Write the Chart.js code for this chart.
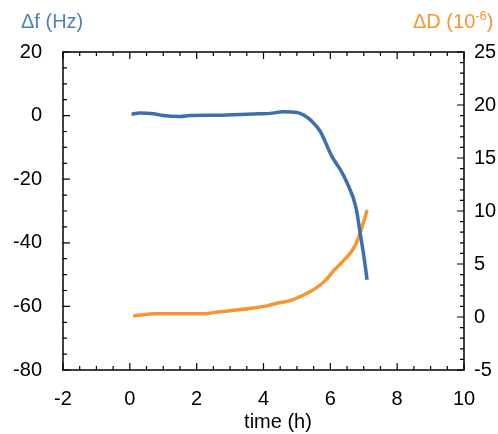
<!DOCTYPE html>
<html>
<head>
<meta charset="utf-8">
<script src="https://cdn.jsdelivr.net/npm/chart.js@4"></script>
<style>
  body { margin: 0; background: #fff; }
  canvas { display: block; }
</style>
</head>
<body>
<canvas id="chart" width="498" height="434"></canvas>
<script>
// Δf (Hz) against time (h), left axis
const freqTime = [0.05, 0.3, 0.7, 1.0, 1.5, 1.8, 2.5, 3.1, 3.7, 4.2, 4.6, 5.0, 5.2, 5.45, 5.7, 6.05, 6.3, 6.5, 6.77, 6.89, 7.0, 7.1];
const freqShift = [0.4, 0.8, 0.6, 0, -0.3, 0, 0.1, 0.3, 0.5, 0.7, 1.2, 1.0, 0.2, -1.8, -5.0, -12.9, -17, -21.1, -29, -36.8, -44, -51.6];

// ΔD (1e-6) against time (h), right axis
const dissTime = [0.1, 0.8, 1.5, 2.2, 2.7, 3.2, 3.7, 4.1, 4.4, 4.8, 5.15, 5.6, 5.9, 6.08, 6.3, 6.59, 6.75, 6.89, 7.0, 7.1];
const dissShift = [0.1, 0.3, 0.3, 0.3, 0.5, 0.65, 0.85, 1.05, 1.3, 1.55, 2.0, 2.8, 3.6, 4.3, 5.0, 6.0, 6.8, 7.9, 9.0, 10.1];

const BLUE = '#3d6fab';
const ORANGE = '#f7952f';
const FONT = 'Liberation Sans, Arial, sans-serif';

function toPoints(xs, ys) {
    return xs.map((x, i) => ({ x: x, y: ys[i] }));
}

// inward tick marks + closed frame, drawn from the scales themselves
const frameTicks = {
    id: 'frameTicks',
    afterDraw(chart) {
        const ctx = chart.ctx;
        const a = chart.chartArea;
        const xs = chart.scales.x, yl = chart.scales.y, yr = chart.scales.y1;
        ctx.save();
        ctx.strokeStyle = '#000';
        ctx.lineWidth = 1.5;
        ctx.strokeRect(a.left, a.top, a.right - a.left, a.bottom - a.top);
        ctx.lineWidth = 1.2;
        ctx.beginPath();
        for (let v = -2; v <= 10.001; v += 0.5) {
            const px = xs.getPixelForValue(v);
            const len = Math.abs(v % 2) < 0.01 ? 7 : 4;
            ctx.moveTo(px, a.bottom); ctx.lineTo(px, a.bottom - len);
            ctx.moveTo(px, a.top); ctx.lineTo(px, a.top + len);
        }
        for (let v = -80; v <= 20.001; v += 5) {
            const py = yl.getPixelForValue(v);
            const len = Math.abs(v % 20) < 0.01 ? 7 : 4;
            ctx.moveTo(a.left, py); ctx.lineTo(a.left + len, py);
        }
        for (let v = -5; v <= 25.001; v += 1) {
            const py = yr.getPixelForValue(v);
            const len = Math.abs(v % 5) < 0.01 ? 7 : 4;
            ctx.moveTo(a.right, py); ctx.lineTo(a.right - len, py);
        }
        ctx.stroke();

        // axis titles
        ctx.textBaseline = 'middle';
        ctx.font = '20px ' + FONT;
        ctx.fillStyle = '#4f81bd';
        ctx.textAlign = 'left';
        ctx.fillText('\u0394f (Hz)', 21, 22);

        ctx.fillStyle = ORANGE;
        const main = '\u0394D (10';
        ctx.fillText(main, 413, 22);
        let w = ctx.measureText(main).width;
        ctx.font = '13px ' + FONT;
        ctx.fillText('-6', 413 + w, 16);
        w += ctx.measureText('-6').width;
        ctx.font = '20px ' + FONT;
        ctx.fillText(')', 413 + w, 22);

        ctx.fillStyle = '#000';
        ctx.textAlign = 'center';
        ctx.fillText('time (h)', 278, 422);
        ctx.restore();
    }
};

new Chart(document.getElementById('chart'), {
    type: 'scatter',
    data: {
        datasets: [
            {
                label: 'Δf',
                data: toPoints(freqTime, freqShift),
                yAxisID: 'y',
                showLine: true,
                borderColor: BLUE,
                borderWidth: 3.5,
                pointRadius: 0,
                cubicInterpolationMode: 'monotone'
            },
            {
                label: 'ΔD',
                data: toPoints(dissTime, dissShift),
                yAxisID: 'y1',
                showLine: true,
                borderColor: ORANGE,
                borderWidth: 3.5,
                pointRadius: 0,
                cubicInterpolationMode: 'monotone'
            }
        ]
    },
    options: {
        responsive: false,
        animation: false,
        layout: { padding: { top: 52, left: 0, right: 0, bottom: 0 } },
        plugins: {
            legend: { display: false },
            tooltip: { enabled: false }
        },
        scales: {
            x: {
                type: 'linear',
                min: -2, max: 10,
                grid: { display: false, drawTicks: false },
                border: { display: false },
                ticks: { stepSize: 2, padding: 17, color: '#000', font: { family: FONT, size: 20 }, maxRotation: 0 },
                afterFit(s) { s.height = 64; }
            },
            y: {
                position: 'left',
                min: -80, max: 20,
                grid: { display: false, drawTicks: false },
                border: { display: false },
                ticks: { stepSize: 20, padding: 21, color: '#000', font: { family: FONT, size: 20 } },
                afterFit(s) { s.width = 63; }
            },
            y1: {
                position: 'right',
                min: -5, max: 25,
                grid: { display: false, drawTicks: false },
                border: { display: false },
                ticks: { stepSize: 5, padding: 10, color: '#000', font: { family: FONT, size: 20 } },
                afterFit(s) { s.width = 34; }
            }
        }
    },
    plugins: [frameTicks]
});
</script>
</body>
</html>
